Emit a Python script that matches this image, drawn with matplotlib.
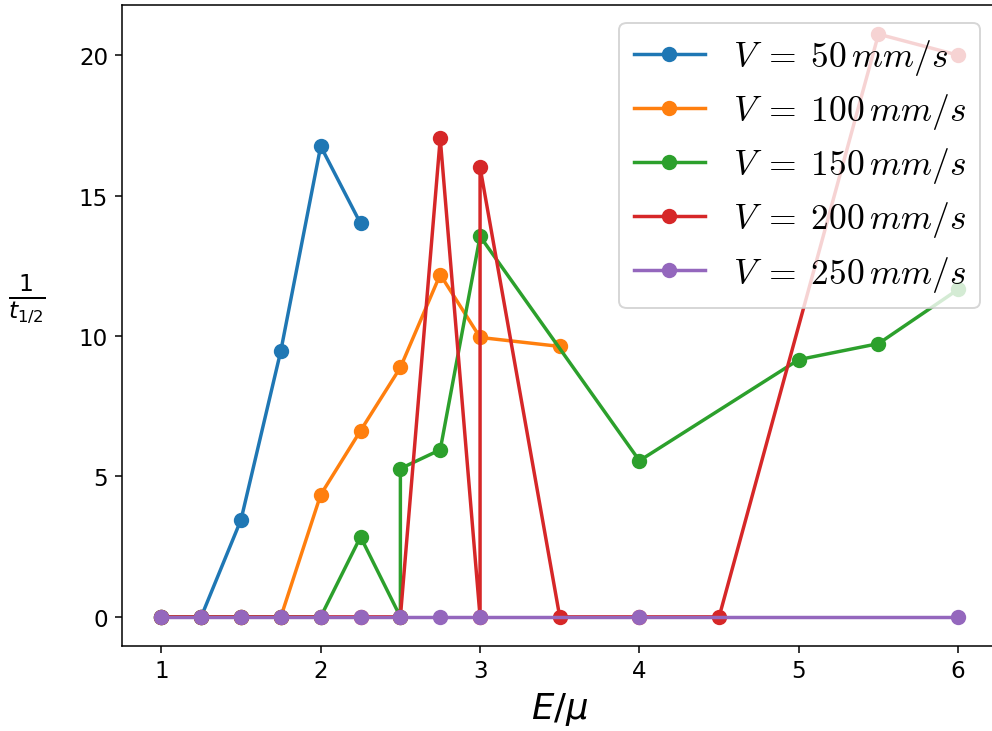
import matplotlib
matplotlib.use("Agg")
import matplotlib.pyplot as plt

# Data
x_50 = [1, 1.25, 1.5, 1.75, 2, 2.25]
y_50 = [0, 0, 3.46, 9.48, 16.76, 14.01]

x_100 = [1, 1.25, 1.5, 1.75, 2, 2.25, 2.5, 2.75, 3, 3.5]
y_100 = [0, 0, 0, 0, 4.35, 6.63, 8.88, 12.19, 9.95, 9.63]

x_150 = [1, 1.25, 1.5, 1.75, 2, 2.25, 2.5, 2.5, 2.75, 3, 4, 5, 5.5, 6]
y_150 = [0, 0, 0, 0, 0, 2.85, 0, 5.28, 5.95, 13.55, 5.56, 9.16, 9.73, 11.66]

x_200 = [1, 1.25, 1.5, 1.75, 2, 2.25, 2.5, 2.75, 3, 3, 3.5, 4, 4.5, 5.5, 6]
y_200 = [0, 0, 0, 0, 0, 0, 0, 17.04, 0, 16.01, 0, 0, 0, 20.75, 20.0]

x_250 = [1, 1.25, 1.5, 1.75, 2, 2.25, 2.5, 2.75, 3, 4, 6]
y_250 = [0, 0, 0, 0, 0, 0, 0, 0, 0, 0, 0]

labels = [r"$V\;=\;50\,mm/s$", r"$V\;=\;100\,mm/s$", r"$V\;=\;150\,mm/s$",
          r"$V\;=\;200\,mm/s$", r"$V\;=\;250\,mm/s$"]

DPI = 138
fig = plt.figure(figsize=(992 / DPI, 732 / DPI), dpi=DPI)
ax = fig.add_axes([121.5 / 992, 1 - 647 / 732, (998 - 121.5) / 992, (647 - 6) / 732])

series = [(x_50, y_50), (x_100, y_100), (x_150, y_150), (x_200, y_200), (x_250, y_250)]
for (xs, ys), lab in zip(series, labels):
    ax.plot(xs, ys, marker="o", markersize=7, linewidth=1.8, label=lab)

ax.tick_params(labelsize=12)

plt.rcParams["mathtext.fontset"] = "cm"
leg = ax.legend(loc="upper right", fontsize=18.5, labelspacing=0.4)

ax.set_xlabel(r"$E/\mu$", fontsize=18.5, math_fontfamily="dejavusans")
ax.set_ylabel(r"$\frac{1}{t_{1/2}}$", fontsize=17.5, rotation=0, math_fontfamily="dejavusans")
ax.yaxis.set_label_coords(-0.108, 0.5)

fig.savefig("out.png", dpi=DPI)
